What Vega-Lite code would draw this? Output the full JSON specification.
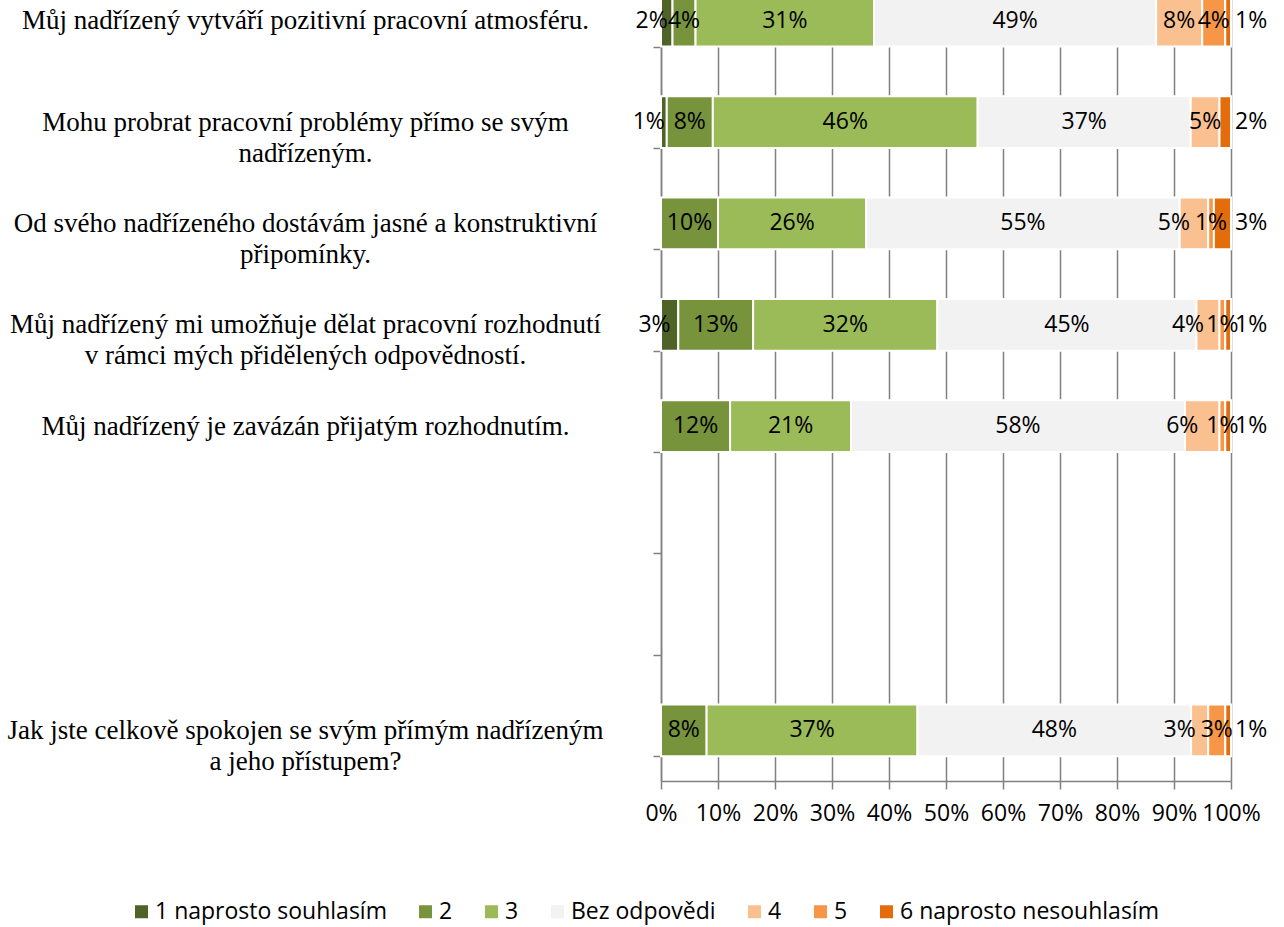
{
  "$schema": "https://vega.github.io/schema/vega-lite/v6.json",
  "width": 570,
  "height": 811,
  "autosize": {"type": "none"},
  "padding": {"left": 661, "top": -30, "right": 53, "bottom": 146},
  "background": "white",
  "config": {"view": {"stroke": null}, "font": "Open Sans"},
  "data": {
    "values": [
      {"q": "Můj nadřízený vytváří pozitivní pracovní atmosféru.", "a": "1 naprosto souhlasím", "v": 2},
      {"q": "Můj nadřízený vytváří pozitivní pracovní atmosféru.", "a": "2", "v": 4},
      {"q": "Můj nadřízený vytváří pozitivní pracovní atmosféru.", "a": "3", "v": 31},
      {"q": "Můj nadřízený vytváří pozitivní pracovní atmosféru.", "a": "Bez odpovědi", "v": 49},
      {"q": "Můj nadřízený vytváří pozitivní pracovní atmosféru.", "a": "4", "v": 8},
      {"q": "Můj nadřízený vytváří pozitivní pracovní atmosféru.", "a": "5", "v": 4},
      {"q": "Můj nadřízený vytváří pozitivní pracovní atmosféru.", "a": "6 naprosto nesouhlasím", "v": 1},
      {"q": "Mohu probrat pracovní problémy přímo se svým nadřízeným.", "a": "1 naprosto souhlasím", "v": 1},
      {"q": "Mohu probrat pracovní problémy přímo se svým nadřízeným.", "a": "2", "v": 8},
      {"q": "Mohu probrat pracovní problémy přímo se svým nadřízeným.", "a": "3", "v": 46},
      {"q": "Mohu probrat pracovní problémy přímo se svým nadřízeným.", "a": "Bez odpovědi", "v": 37},
      {"q": "Mohu probrat pracovní problémy přímo se svým nadřízeným.", "a": "4", "v": 5},
      {"q": "Mohu probrat pracovní problémy přímo se svým nadřízeným.", "a": "6 naprosto nesouhlasím", "v": 2},
      {"q": "Od svého nadřízeného dostávám jasné a konstruktivní připomínky.", "a": "2", "v": 10},
      {"q": "Od svého nadřízeného dostávám jasné a konstruktivní připomínky.", "a": "3", "v": 26},
      {"q": "Od svého nadřízeného dostávám jasné a konstruktivní připomínky.", "a": "Bez odpovědi", "v": 55},
      {"q": "Od svého nadřízeného dostávám jasné a konstruktivní připomínky.", "a": "4", "v": 5},
      {"q": "Od svého nadřízeného dostávám jasné a konstruktivní připomínky.", "a": "5", "v": 1},
      {"q": "Od svého nadřízeného dostávám jasné a konstruktivní připomínky.", "a": "6 naprosto nesouhlasím", "v": 3},
      {"q": "Můj nadřízený mi umožňuje dělat pracovní rozhodnutí v rámci mých přidělených odpovědností.", "a": "1 naprosto souhlasím", "v": 3},
      {"q": "Můj nadřízený mi umožňuje dělat pracovní rozhodnutí v rámci mých přidělených odpovědností.", "a": "2", "v": 13},
      {"q": "Můj nadřízený mi umožňuje dělat pracovní rozhodnutí v rámci mých přidělených odpovědností.", "a": "3", "v": 32},
      {"q": "Můj nadřízený mi umožňuje dělat pracovní rozhodnutí v rámci mých přidělených odpovědností.", "a": "Bez odpovědi", "v": 45},
      {"q": "Můj nadřízený mi umožňuje dělat pracovní rozhodnutí v rámci mých přidělených odpovědností.", "a": "4", "v": 4},
      {"q": "Můj nadřízený mi umožňuje dělat pracovní rozhodnutí v rámci mých přidělených odpovědností.", "a": "5", "v": 1},
      {"q": "Můj nadřízený mi umožňuje dělat pracovní rozhodnutí v rámci mých přidělených odpovědností.", "a": "6 naprosto nesouhlasím", "v": 1},
      {"q": "Můj nadřízený je zavázán přijatým rozhodnutím.", "a": "2", "v": 12},
      {"q": "Můj nadřízený je zavázán přijatým rozhodnutím.", "a": "3", "v": 21},
      {"q": "Můj nadřízený je zavázán přijatým rozhodnutím.", "a": "Bez odpovědi", "v": 58},
      {"q": "Můj nadřízený je zavázán přijatým rozhodnutím.", "a": "4", "v": 6},
      {"q": "Můj nadřízený je zavázán přijatým rozhodnutím.", "a": "5", "v": 1},
      {"q": "Můj nadřízený je zavázán přijatým rozhodnutím.", "a": "6 naprosto nesouhlasím", "v": 1},
      {"q": "Jak jste celkově spokojen se svým přímým nadřízeným a jeho přístupem?", "a": "2", "v": 8},
      {"q": "Jak jste celkově spokojen se svým přímým nadřízeným a jeho přístupem?", "a": "3", "v": 37},
      {"q": "Jak jste celkově spokojen se svým přímým nadřízeným a jeho přístupem?", "a": "Bez odpovědi", "v": 48},
      {"q": "Jak jste celkově spokojen se svým přímým nadřízeným a jeho přístupem?", "a": "4", "v": 3},
      {"q": "Jak jste celkově spokojen se svým přímým nadřízeným a jeho přístupem?", "a": "5", "v": 3},
      {"q": "Jak jste celkově spokojen se svým přímým nadřízeným a jeho přístupem?", "a": "6 naprosto nesouhlasím", "v": 1}
    ]
  },
  "transform": [
    {"calculate": "indexof(['1 naprosto souhlasím','2','3','Bez odpovědi','4','5','6 naprosto nesouhlasím'], datum.a)", "as": "k"},
    {"stack": "v", "groupby": ["q"], "sort": [{"field": "k", "order": "ascending"}], "offset": "normalize", "as": ["v0", "v1"]},
    {"calculate": "(datum.v0 + datum.v1) / 2", "as": "mid"},
    {"calculate": "datum.v + '%'", "as": "lbl"}
  ],
  "encoding": {
    "y": {
      "field": "q",
      "type": "nominal",
      "title": null,
      "sort": null,
      "scale": {
        "domain": [
          "Můj nadřízený vytváří pozitivní pracovní atmosféru.",
          "Mohu probrat pracovní problémy přímo se svým nadřízeným.",
          "Od svého nadřízeného dostávám jasné a konstruktivní připomínky.",
          "Můj nadřízený mi umožňuje dělat pracovní rozhodnutí v rámci mých přidělených odpovědností.",
          "Můj nadřízený je zavázán přijatým rozhodnutím.",
          " ",
          "  ",
          "Jak jste celkově spokojen se svým přímým nadřízeným a jeho přístupem?"
        ],
        "paddingInner": 0.49,
        "paddingOuter": 0.245
      },
      "axis": {
        "title": null,
        "domain": true,
        "domainColor": "#808080",
        "domainWidth": 1.5,
        "ticks": true,
        "tickBand": "extent",
        "tickSize": 8,
        "tickColor": "#808080",
        "tickWidth": 1.5,
        "grid": false,
        "labelFont": "Liberation Serif",
        "labelFontSize": 27,
        "labelColor": "#000000",
        "labelAlign": "center",
        "labelBaseline": "middle",
        "labelPadding": 348,
        "labelLineHeight": 31,
        "labelLimit": 0,
        "labelOverlap": false,
        "labelExpr": "datum.label == 'Mohu probrat pracovní problémy přímo se svým nadřízeným.' ? ['Mohu probrat pracovní problémy přímo se svým', 'nadřízeným.'] : datum.label == 'Od svého nadřízeného dostávám jasné a konstruktivní připomínky.' ? ['Od svého nadřízeného dostávám jasné a konstruktivní', 'připomínky.'] : datum.label == 'Můj nadřízený mi umožňuje dělat pracovní rozhodnutí v rámci mých přidělených odpovědností.' ? ['Můj nadřízený mi umožňuje dělat pracovní rozhodnutí', 'v rámci mých přidělených odpovědností.'] : datum.label == 'Jak jste celkově spokojen se svým přímým nadřízeným a jeho přístupem?' ? ['Jak jste celkově spokojen se svým přímým nadřízeným', 'a jeho přístupem?'] : datum.label"
      }
    }
  },
  "layer": [
    {
      "mark": {"type": "bar", "stroke": "#ffffff", "strokeWidth": 2},
      "encoding": {
        "x": {
          "field": "v0",
          "type": "quantitative",
          "scale": {"domain": [0, 1], "nice": false},
          "axis": {
            "title": null,
            "format": ".0%",
            "values": [0, 0.1, 0.2, 0.3, 0.4, 0.5, 0.6, 0.7, 0.8, 0.9, 1],
            "grid": true,
            "gridColor": "#808080",
            "gridWidth": 1.5,
            "domain": true,
            "domainColor": "#808080",
            "domainWidth": 1.5,
            "tickSize": 8,
            "tickColor": "#808080",
            "tickWidth": 1.5,
            "labelFont": "Open Sans",
            "labelFontSize": 23,
            "labelColor": "#000000",
            "labelBaseline": "middle",
            "labelPadding": 24,
            "labelFlush": false,
            "labelOverlap": false
          }
        },
        "x2": {"field": "v1"},
        "color": {
          "field": "a",
          "type": "nominal",
          "scale": {
            "domain": ["1 naprosto souhlasím", "2", "3", "Bez odpovědi", "4", "5", "6 naprosto nesouhlasím"],
            "range": ["#4F6228", "#77933C", "#9BBB59", "#F2F2F2", "#FAC090", "#F79646", "#E46C0A"]
          },
          "legend": {
            "title": null,
            "orient": "none",
            "legendX": -531,
            "legendY": 930,
            "direction": "horizontal",
            "columns": 7,
            "columnPadding": 27,
            "symbolType": "square",
            "symbolSize": 169,
            "symbolStrokeWidth": 0,
            "labelFont": "Open Sans",
            "labelFontSize": 23,
            "labelColor": "#000000",
            "labelOffset": 2,
            "labelLimit": 0
          }
        }
      }
    },
    {
      "transform": [{"filter": "(datum.k >= 1 && datum.k <= 5 && datum.k != 4) || (datum.k == 4 && (datum.q == 'Můj nadřízený vytváří pozitivní pracovní atmosféru.' || datum.q == 'Mohu probrat pracovní problémy přímo se svým nadřízeným.'))"}],
      "mark": {"type": "text", "font": "Open Sans", "fontSize": 23, "color": "#000000", "baseline": "middle", "align": "center"},
      "encoding": {"x": {"field": "mid", "type": "quantitative"}, "text": {"field": "lbl"}}
    },
    {
      "transform": [{"filter": "datum.k == 4 && datum.q != 'Můj nadřízený vytváří pozitivní pracovní atmosféru.' && datum.q != 'Mohu probrat pracovní problémy přímo se svým nadřízeným.'"}],
      "mark": {"type": "text", "font": "Open Sans", "fontSize": 23, "color": "#000000", "baseline": "middle", "align": "center", "dx": -20},
      "encoding": {"x": {"field": "mid", "type": "quantitative"}, "text": {"field": "lbl"}}
    },
    {
      "transform": [{"filter": "datum.k == 0"}],
      "mark": {"type": "text", "font": "Open Sans", "fontSize": 23, "color": "#000000", "baseline": "middle", "align": "right", "dx": 1},
      "encoding": {"x": {"field": "mid", "type": "quantitative"}, "text": {"field": "lbl"}}
    },
    {
      "transform": [{"filter": "datum.k == 6"}],
      "mark": {"type": "text", "font": "Open Sans", "fontSize": 23, "color": "#000000", "baseline": "middle", "align": "left", "dx": 4},
      "encoding": {"x": {"field": "v1", "type": "quantitative"}, "text": {"field": "lbl"}}
    }
  ]
}
